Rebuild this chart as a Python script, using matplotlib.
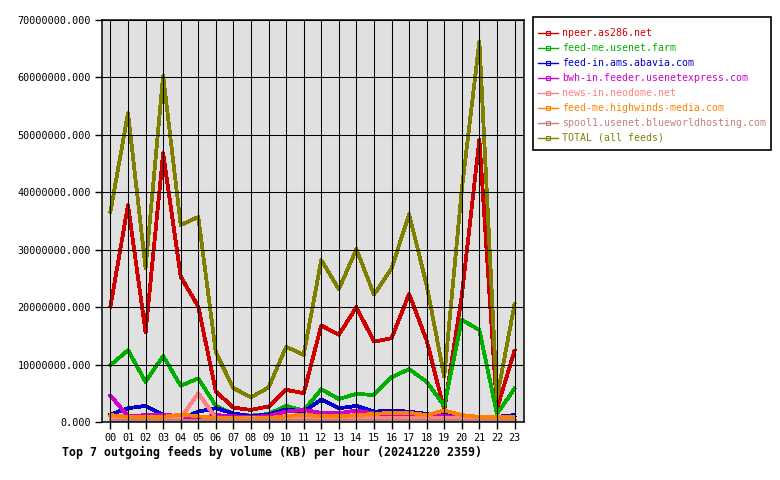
import matplotlib
matplotlib.use("Agg")
import matplotlib.pyplot as plt
from matplotlib.lines import Line2D
from matplotlib.patches import Rectangle
import numpy as np

hours = ["%02d" % h for h in range(24)]
feeds = ["npeer.as286.net", "feed-me.usenet.farm", "feed-in.ams.abavia.com",
         "bwh-in.feeder.usenetexpress.com", "news-in.neodome.net",
         "feed-me.highwinds-media.com", "spool1.usenet.blueworldhosting.com",
         "TOTAL (all feeds)"]
colors = ["#d00000", "#00b000", "#0000d0", "#d000d0", "#ff8080",
          "#ff8000", "#c08080", "#808000"]

npeer = [20.1, 37.8, 15.6, 46.8, 25.3, 20.1, 5.3, 2.5, 2.1, 2.7, 5.6, 5.0,
         16.8, 15.2, 20.0, 14.0, 14.6, 22.3, 14.2, 2.1, 22.0, 49.2, 2.3, 12.4]
usenet_farm = [9.9, 12.5, 7.0, 11.5, 6.3, 7.6, 2.8, 1.4, 1.1, 1.4, 2.8, 2.0,
               5.7, 4.0, 4.9, 4.7, 7.8, 9.2, 7.0, 2.8, 17.8, 16.0, 1.4, 5.8]
abavia = [1.3, 2.4, 2.8, 1.2, 0.6, 1.8, 2.4, 1.5, 1.0, 1.3, 2.2, 1.8,
          3.9, 2.4, 2.8, 1.8, 2.0, 1.8, 1.4, 1.3, 1.0, 0.9, 0.9, 1.2]
bwh = [4.6, 1.0, 1.2, 1.3, 1.0, 0.6, 1.2, 1.0, 0.8, 1.1, 1.8, 2.1,
       1.6, 1.5, 2.0, 1.5, 1.3, 1.2, 1.1, 1.0, 0.9, 0.9, 0.9, 0.9]
neodome = [0.7, 0.7, 0.7, 0.7, 0.7, 5.0, 0.7, 0.7, 0.7, 0.7, 0.7, 0.7,
           0.8, 0.8, 0.8, 0.8, 0.8, 0.8, 0.8, 0.8, 0.8, 0.8, 0.8, 0.8]
highwinds = [1.2, 0.9, 0.9, 0.9, 1.3, 1.0, 0.7, 0.7, 0.6, 0.7, 1.0, 1.3,
             1.0, 1.0, 1.2, 1.4, 1.6, 1.6, 1.2, 2.0, 1.2, 0.9, 0.9, 0.9]
spool1 = [0.4] * 24
total = [36.6, 53.8, 26.8, 60.3, 34.3, 35.7, 12.1, 5.9, 4.3, 6.0, 13.1, 11.7,
         28.2, 23.1, 30.1, 22.2, 26.7, 36.2, 23.8, 7.9, 40.5, 66.3, 4.2, 20.5]

series = [npeer, usenet_farm, abavia, bwh, neodome, highwinds, spool1, total]

W, H = 780, 480
fig = plt.figure(figsize=(7.8, 4.8), dpi=100)
fig.patch.set_facecolor("white")

L, R, T, B = 102, 524, 20, 422
ax = fig.add_axes([L / W, 1 - B / H, (R - L) / W, (B - T) / H])
ax.set_facecolor("#e0e0e0")

x = np.arange(24)
for vals, c in zip(series, colors):
    ax.plot(x, np.array(vals) * 1e6, color=c, lw=2.0, antialiased=False,
            solid_joinstyle="round", zorder=1.5)

ax.set_xlim(-0.48, 23.54)
ax.set_ylim(0, 70e6)
ax.set_xticks(x)
ax.set_xticklabels(hours)
yt = np.arange(0, 70e6 + 1, 10e6)
ax.set_yticks(yt)
ax.set_yticklabels(["%.3f" % v for v in yt])
ax.set_axisbelow(False)
ax.grid(True, color="black", lw=0.75, zorder=2)
for s in ax.spines.values():
    s.set_color("black")
    s.set_linewidth(1.1)
    s.set_zorder(3)
mono = "DejaVu Sans Mono"
ax.tick_params(axis="both", direction="out", length=5, width=1.0,
               color="black", labelsize=7.3, pad=3)
for lab in ax.get_xticklabels() + ax.get_yticklabels():
    lab.set_family(mono)

fig.text(62 / W, 1 - 452 / H,
         "Top 7 outgoing feeds by volume (KB) per hour (20241220 2359)",
         family=mono, weight="bold", fontsize=8.35, va="center", ha="left")

# legend box
fig.patches.append(Rectangle((533 / W, 1 - 150 / H), (771 - 533) / W,
                             (150 - 17) / H, transform=fig.transFigure,
                             facecolor="white", edgecolor="black", lw=1.2))
for i, (name, c) in enumerate(zip(feeds, colors)):
    yy = 1 - (33 + 15 * i) / H
    fig.lines.append(Line2D([538 / W, 558 / W], [yy, yy], color=c, lw=1.0,
                            transform=fig.transFigure))
    fig.lines.append(Line2D([548 / W], [yy], color=c, marker="s", ms=2.5,
                            mfc="none", mew=0.8, transform=fig.transFigure))
    fig.text(562 / W, yy, name, color=c, family=mono, fontsize=7.15,
             va="center", ha="left")

fig.savefig("out.png", dpi=100)
